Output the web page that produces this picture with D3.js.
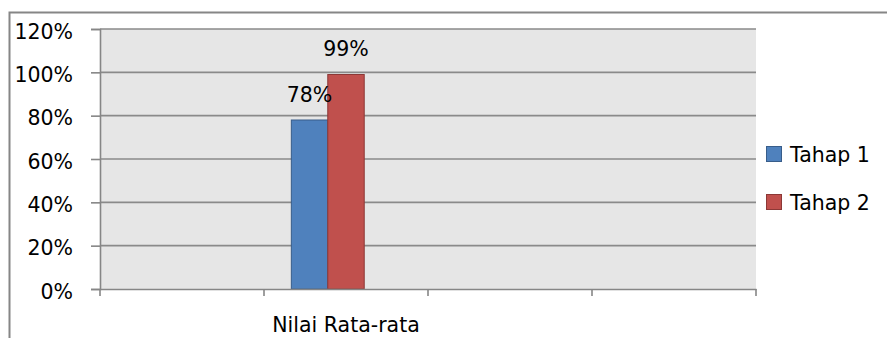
<!DOCTYPE html>
<html>
<head>
<meta charset="utf-8">
<script src="https://cdn.jsdelivr.net/npm/d3@7"></script>
<style>
  html, body { margin: 0; padding: 0; background: #fff; }
  svg { display: block; font-family: "DejaVu Sans", sans-serif; }
</style>
</head>
<body>
<svg id="chart" width="887" height="338"></svg>
<script>
// ---- data ----
const categories = ["", "Nilai Rata-rata", "", ""];
const seriesNames = ["Tahap 1", "Tahap 2"];
const tahap1 = [null, 0.78, null, null];
const tahap2 = [null, 0.99, null, null];
const tahap3 = [null, null, null, null]; // empty third series slot (not in legend)
const yTicks = [0, 0.2, 0.4, 0.6, 0.8, 1.0, 1.2];

const seriesValues = [tahap1, tahap2, tahap3];
const fills = ["#4F81BD", "#C0504D"];
const strokes = ["#385D8A", "#8C3836"];

const svg = d3.select("#chart");
const W = 887, H = 338;
const plot = { left: 100, right: 756, top: 29, bottom: 289 };
const fontSize = 20.5;

// outer chart border
svg.append("rect")
  .attr("x", 9.5).attr("y", 12.5)
  .attr("width", W + 10).attr("height", H + 10)
  .attr("fill", "#fff").attr("stroke", "#868686").attr("stroke-width", 2);

const y = d3.scaleLinear().domain([0, 1.2]).range([plot.bottom, plot.top]);
const x = d3.scaleBand().domain(d3.range(categories.length))
  .range([plot.left, plot.right]).paddingInner(0).paddingOuter(0);
const x1 = d3.scaleBand().domain(d3.range(seriesValues.length))
  .range([0, x.bandwidth()]).paddingInner(0).paddingOuter(0.75);

// plot background
svg.append("rect")
  .attr("x", plot.left).attr("y", plot.top)
  .attr("width", plot.right - plot.left).attr("height", plot.bottom - plot.top)
  .attr("fill", "#E6E6E6");

// gridlines
svg.append("g").selectAll("line").data(yTicks.filter(d => d > 0)).join("line")
  .attr("x1", plot.left).attr("x2", plot.right)
  .attr("y1", d => y(d)).attr("y2", d => y(d))
  .attr("stroke", "#8A8A8A").attr("stroke-width", 1.6);

// bars
const barData = [];
seriesValues.forEach((vals, s) => {
  vals.forEach((v, i) => { if (v != null && s < seriesNames.length) barData.push({ s, i, v }); });
});
svg.append("g").selectAll("rect").data(barData).join("rect")
  .attr("x", d => x(d.i) + x1(d.s))
  .attr("y", d => y(d.v))
  .attr("width", x1.bandwidth())
  .attr("height", d => y(0) - y(d.v))
  .attr("fill", d => fills[d.s])
  .attr("stroke", d => strokes[d.s]).attr("stroke-width", 1);

// data labels
svg.append("g").selectAll("text").data(barData).join("text")
  .attr("x", d => x(d.i) + x1(d.s) + x1.bandwidth() / 2)
  .attr("y", d => y(d.v) - 18.5)
  .attr("text-anchor", "middle")
  .attr("font-size", fontSize).attr("fill", "#000")
  .text(d => d3.format(".0%")(d.v));

// y axis
const yAxis = svg.append("g").attr("transform", `translate(${plot.left},0)`)
  .call(d3.axisLeft(y).tickValues(yTicks).tickFormat(d3.format(".0%")).tickSize(9).tickPadding(18));
yAxis.select(".domain").attr("stroke", "#868686").attr("stroke-width", 1.6);
yAxis.selectAll(".tick line").attr("stroke", "#868686").attr("stroke-width", 1.6);
yAxis.selectAll(".tick text")
  .attr("font-family", "DejaVu Sans").attr("font-size", fontSize).attr("fill", "#000")
  .attr("dy", "0.32em").attr("x", -27).attr("y", 2.5);

// x axis
const xAxis = svg.append("g").attr("transform", `translate(0,${plot.bottom})`)
  .call(d3.axisBottom(x).tickFormat(i => categories[i]).tickSize(0).tickSizeOuter(0).tickPadding(0));
xAxis.select(".domain").attr("stroke", "#868686").attr("stroke-width", 1.6);
xAxis.selectAll(".tick text")
  .attr("font-family", "DejaVu Sans").attr("font-size", fontSize).attr("fill", "#000")
  .attr("y", 42.5).attr("dy", 0);
// category boundary tick marks
const bounds = d3.range(categories.length + 1).map(i => i < categories.length ? x(i) : plot.right);
xAxis.append("g").selectAll("line").data(bounds).join("line")
  .attr("x1", d => d).attr("x2", d => d).attr("y1", 0).attr("y2", 7)
  .attr("stroke", "#868686").attr("stroke-width", 1.6);

// legend
const legend = svg.append("g").attr("transform", "translate(766,146)");
const li = legend.selectAll("g").data(seriesNames).join("g")
  .attr("transform", (d, i) => `translate(0,${i * 48})`);
li.append("rect").attr("x", 0.5).attr("y", 0.5).attr("width", 15).attr("height", 15)
  .attr("fill", (d, i) => fills[i]).attr("stroke", (d, i) => strokes[i]).attr("stroke-width", 1);
li.append("text").attr("x", 24).attr("y", 15.7)
  .attr("font-size", fontSize).attr("fill", "#000").text(d => d);
</script>
</body>
</html>
